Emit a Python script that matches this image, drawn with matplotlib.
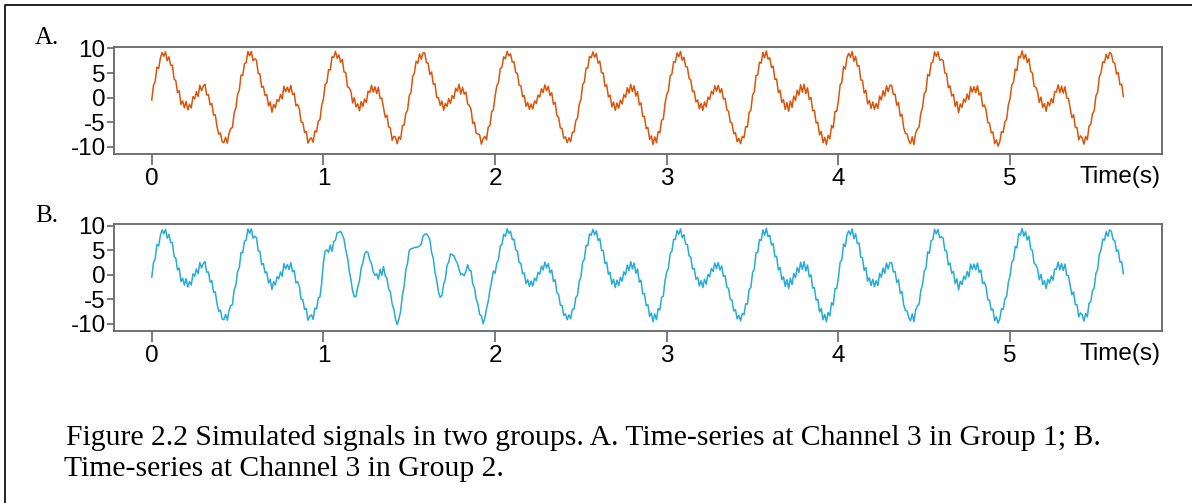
import matplotlib
matplotlib.use('Agg')
import matplotlib.pyplot as plt
from matplotlib.lines import Line2D
import numpy as np

sample_step = 0.01

group1_ch3 = [
    -0.5, 2.5, 3.3, 6.2, 5.9, 8.0, 9.2, 8.4, 9.3, 7.5, 8.3, 6.6, 6.6, 3.8, 3.4, 1.0, 1.4, -1.4, -0.7, -2.1,
    -0.8, -2.5, -1.4, -2.1, 0.2, -0.3, 1.2, 0.2, 2.5, 1.4, 2.3, 2.7, 0.5, 0.6, -1.5, -1.2, -3.6, -3.5, -5.9, -7.5,
    -7.2, -9.0, -9.2, -8.1, -9.3, -7.3, -6.3, -6.1, -3.1, -2.1,
    0.7, 1.5, 4.6, 4.5, 6.9, 7.1, 9.4, 8.5, 9.4, 7.5, 7.9, 7.6, 4.9, 4.8, 2.1, 2.3, 0.4, 0.6, -1.7, -0.9,
    -3.0, -1.4, -2.1, -0.4, -0.8, 0.6, -0.3, 2.3, 1.2, 2.1, 1.1, 2.5, 0.6, 0.9, -1.7, -1.4, -2.4, -5.0, -5.1, -7.1,
    -6.9, -9.3, -8.5, -8.2, -9.1, -6.8, -7.0, -4.8, -4.5, -1.6,
    -0.3, 2.7, 3.0, 5.7, 5.6, 8.3, 8.2, 9.4, 8.0, 8.7, 7.2, 7.8, 5.2, 5.1, 2.2, 2.0, 1.3, -1.1, 0.0, -1.9,
    -1.3, -2.7, -0.8, -1.8, -0.3, -1.0, 1.3, 1.0, 2.5, 1.1, 2.2, 0.8, 2.1, -0.2, -0.1, -2.1, -4.0, -3.6, -6.0, -6.2,
    -8.7, -7.9, -8.1, -9.4, -8.0, -8.5, -5.7, -5.6, -3.2, -2.6,
    0.4, 1.0, 4.3, 5.0, 7.4, 7.0, 8.9, 7.8, 9.1, 9.1, 7.1, 7.0, 4.7, 5.2, 2.7, 2.8, 0.0, 0.0, -1.6, -0.7,
    -2.6, -1.2, -1.8, -0.2, -1.2, 0.4, -0.2, 1.9, 1.3, 2.7, 0.7, 2.1, 0.7, 1.1, -1.3, -1.6, -2.4, -5.3, -5.0, -7.3,
    -7.4, -7.6, -9.5, -8.4, -7.9, -8.6, -6.0, -5.7, -2.9, -2.5,
    0.3, 2.4, 3.1, 5.9, 6.2, 8.3, 7.9, 9.4, 8.5, 8.9, 7.2, 7.3, 5.1, 4.9, 2.5, 2.4, 0.2, 0.4, -1.8, -1.0,
    -2.4, -1.3, -2.3, -0.7, -1.2, 0.5, 0.1, 1.8, 1.0, 2.6, 1.4, 2.3, 0.4, 1.0, -1.4, -1.0, -3.7, -4.0, -6.2, -6.3,
    -8.3, -8.0, -9.2, -8.2, -9.0, -7.1, -7.0, -4.7, -4.2, -1.4,
    -0.4, 2.6, 3.2, 6.0, 6.0, 8.4, 8.1, 9.3, 8.2, 9.0, 7.0, 7.4, 5.0, 5.0, 2.3, 2.6, 0.1, 0.5, -1.9, -0.9,
    -2.6, -1.1, -2.2, -0.5, -1.3, 0.6, 0.0, 2.0, 0.9, 2.7, 1.2, 2.4, 0.3, 1.2, -1.5, -1.1, -3.9, -3.8, -6.3, -6.1,
    -8.5, -7.8, -9.6, -8.0, -9.2, -6.9, -7.2, -4.6, -4.4, -1.2,
    0.6, 1.4, 4.4, 4.8, 7.3, 7.2, 9.1, 8.3, 9.4, 7.6, 8.2, 6.3, 6.2, 3.9, 3.6, 1.2, 1.3, -0.9, -0.5, -2.3,
    -1.2, -2.6, -0.9, -1.9, 0.1, -0.4, 1.3, 0.7, 2.4, 1.3, 2.5, 1.0, 1.8, -0.3, -0.2, -2.5, -2.8, -5.0, -5.2, -7.4,
    -7.1, -9.0, -8.3, -9.4, -7.9, -8.2, -5.9, -6.0, -3.0, -2.6,
    0.5, 1.2, 4.5, 4.6, 7.2, 7.0, 9.2, 8.1, 9.5, 7.8, 8.1, 6.1, 6.4, 3.7, 3.8, 1.0, 1.5, -1.0, -0.4, -2.4,
    -1.0, -2.8, -0.7, -2.0, 0.3, -0.6, 1.5, 0.5, 2.6, 1.1, 2.7, 0.8, 2.0, -0.4, 0.0, -2.7, -2.6, -5.2, -5.0, -7.6,
    -6.9, -9.2, -8.1, -9.6, -7.7, -8.4, -5.7, -6.2, -2.8, -2.8,
    -0.6, 2.6, 3.1, 6.3, 5.8, 8.2, 9.0, 8.2, 9.4, 7.4, 8.4, 6.4, 6.5, 3.6, 3.5, 0.9, 1.5, -1.3, -0.6, -2.2,
    -0.9, -2.4, -1.2, -2.2, 0.3, -0.5, 1.4, 0.3, 2.4, 1.2, 2.5, 2.5, 0.6, 0.7, -1.6, -1.0, -3.8, -3.4, -6.1, -7.3,
    -7.4, -8.8, -9.4, -8.0, -9.6, -7.2, -6.4, -6.0, -3.2, -2.0,
    0.8, 1.3, 4.7, 4.4, 7.0, 7.2, 9.3, 8.4, 9.3, 7.6, 7.8, 7.5, 5.0, 4.9, 2.0, 2.4, 0.3, 0.7, -1.8, -0.8,
    -3.1, -1.3, -2.0, -0.3, -0.9, 0.7, -0.4, 2.2, 1.1, 2.2, 1.0, 2.4, 0.5, 1.0, -1.8, -1.5, -2.5, -5.1, -5.2, -7.2,
    -7.0, -9.4, -8.6, -9.9, -9.0, -6.9, -7.1, -4.9, -4.4, -1.5,
    -0.2, 2.6, 3.1, 5.8, 5.5, 8.4, 8.1, 9.5, 7.9, 8.8, 7.1, 7.9, 5.3, 5.0, 2.3, 2.1, 1.2, -1.0, 0.1, -2.0,
    -1.2, -2.8, -0.9, -1.7, -0.2, -1.1, 1.2, 1.1, 2.6, 1.0, 2.3, 0.9, 2.2, -0.1, -0.2, -2.2, -4.1, -3.5, -6.1, -6.1,
    -8.6, -7.8, -8.2, -9.5, -7.9, -8.6, -5.8, -5.5, -3.3, -2.7,
    0.3, 1.1, 4.2, 5.1, 7.3, 7.1, 8.8, 7.9, 9.2, 8.9, 7.2, 7.0, 4.8, 5.1, 2.6, 2.7, 0.2,
]

# group 2 differs from group 1 only between 1.00 s and 1.99 s
group2_burst = [
    2.5, 4.9, 5.1, 4.6, 6.1, 4.8, 6.8, 7.1, 8.6, 8.7,
    8.9, 8.2, 7.3, 5.1, 3.6, 0.9, -1.0, -3.3, -4.5, -4.4,
    -2.5, -1.2, 1.4, 2.5, 4.3, 4.8, 4.5, 3.0, 2.3, 0.6,
    -0.1, 0.2, -0.9, 1.1, -0.1, 1.7, -0.2, -0.7, -2.9, -3.5,
    -5.9, -7.0, -9.1, -10.2, -9.0, -7.4, -4.2, -2.4, 1.0, 2.4,
    5.0, 5.3, 5.4, 5.6, 5.6, 5.7, 5.9, 6.3, 7.9, 8.3,
    8.4, 7.9, 7.2, 4.6, 3.4, 0.5, -1.1, -3.5, -4.6, -4.3,
    -2.0, -0.9, 1.9, 2.6, 4.3, 4.1, 3.9, 3.0, 2.4, 1.1,
    0.0, 0.2, -0.2, 0.7, 2.1, 0.9, 0.8, -1.9, -2.7, -5.0,
    -6.0, -8.1, -8.4, -10.0, -8.9, -6.9, -5.4, -3.1, -1.3, 0.8,
]
burst_start = 100

x_ticks = [0, 1, 2, 3, 4, 5]
y_ticks = [-10, -5, 0, 5, 10]
panel_letters = ['A.', 'B.']
x_label = 'Time(s)'
caption = ['Figure 2.2 Simulated signals in two groups. A. Time-series at Channel 3 in Group 1; B.',
           'Time-series at Channel 3 in Group 2.']

W, H = 1192, 503
SANS = 'Liberation Sans'
SERIF = 'Liberation Serif'


def px(x, y):
    return x / W, 1 - y / H


def draw_panel(fig, top, bottom, t, sig, color, letter, letter_y, label_y):
    l, b = px(114, bottom)
    r, tp = px(1162, top)
    ax = fig.add_axes([l, b, r - l, tp - b])
    ax.plot(t, sig, color=color, lw=1.1)
    ax.set_xlim(-0.22, 5.885)
    ax.set_ylim(-11.5, 10.4)
    ax.set_xticks(x_ticks)
    ax.set_yticks(y_ticks)
    ax.set_xticklabels([str(v) for v in x_ticks], family=SANS, fontsize=17.5)
    ax.set_yticklabels([str(v) for v in y_ticks], family=SANS, fontsize=17.5)
    for s in ax.spines.values():
        s.set_color('#666666')
        s.set_linewidth(1.3)
    ax.tick_params(axis='y', direction='out', length=5, width=1.2, color='#666666', pad=1)
    ax.tick_params(axis='x', direction='out', length=8, width=1.2, color='#666666', pad=2)
    fig.text(*px(1160, label_y), x_label, family=SANS, fontsize=17.5, ha='right', va='center')
    fig.text(*px(35, letter_y), letter, family=SERIF, fontsize=18, ha='left', va='center')
    return ax


def main():
    plt.rcParams['axes.unicode_minus'] = False
    sig1 = np.array(group1_ch3)
    sig2 = sig1.copy()
    sig2[burst_start:burst_start + len(group2_burst)] = group2_burst
    t = np.arange(len(sig1)) * sample_step

    fig = plt.figure(figsize=(W / 100, H / 100), dpi=100)
    draw_panel(fig, 46.5, 154, t, sig1, '#d9560b', panel_letters[0], 38, 177)
    draw_panel(fig, 224, 331, t, sig2, '#26acd8', panel_letters[1], 216, 354)

    # frame lines on the left and top
    x0, y0 = px(5, 5)
    fig.add_artist(Line2D([x0, x0, 1], [0, y0, y0], transform=fig.transFigure,
                          color='black', lw=1.2))

    fig.text(*px(66, 438), caption[0], family=SERIF, fontsize=21.3, ha='left', va='center')
    fig.text(*px(64, 469), caption[1], family=SERIF, fontsize=21.3, ha='left', va='center')

    fig.savefig('out.png', dpi=100)


if __name__ == '__main__':
    main()
